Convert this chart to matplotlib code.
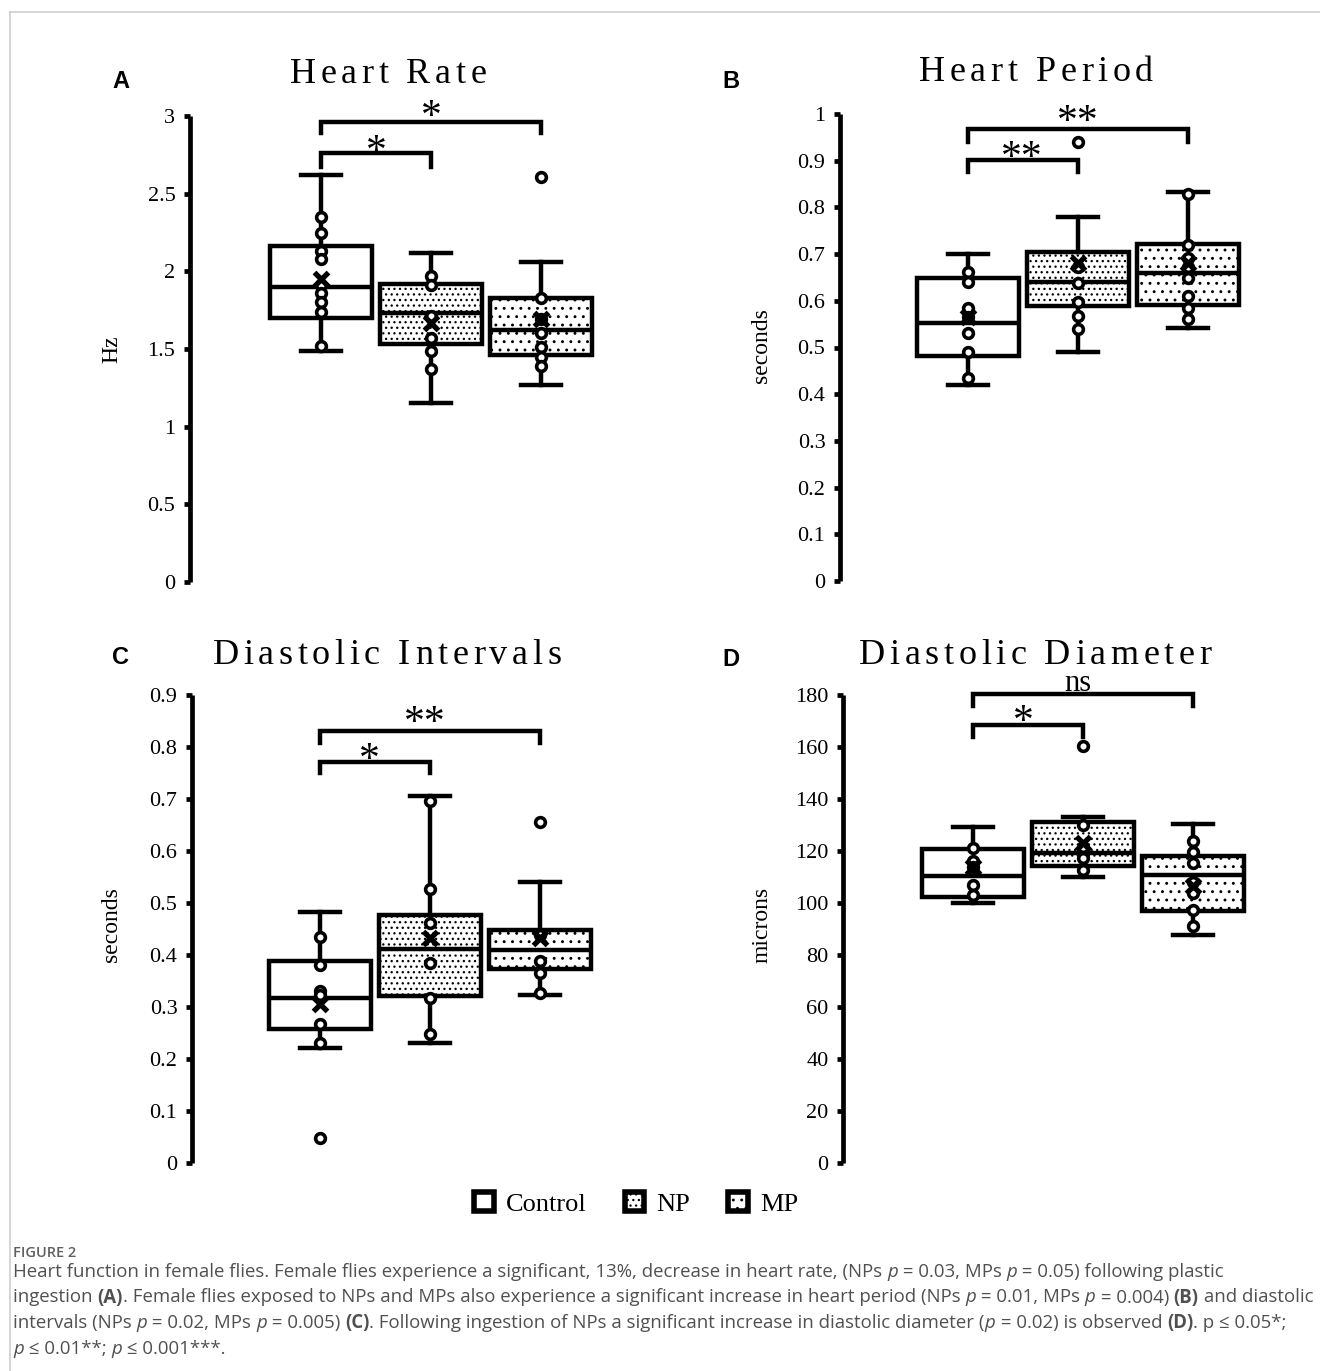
import matplotlib
matplotlib.use('Agg')
import matplotlib.pyplot as plt
from matplotlib.patches import Patch
from matplotlib.lines import Line2D
from matplotlib.font_manager import FontProperties

W, H = 1320, 1371
DPI = 100
SERIF = ['Liberation Serif', 'DejaVu Serif']
SANS = ['Liberation Sans', 'DejaVu Sans']
CAPF = ['Open Sans', 'DejaVu Sans']

plt.rcParams['hatch.linewidth'] = 0.9
plt.rcParams['hatch.color'] = 'black'

groups = ['Control', 'NP', 'MP']
positions = [1, 2, 3]

# ---------------- Panel A: Heart Rate (Hz) ----------------
hr_whislo = [1.49, 1.15, 1.27]
hr_q1 = [1.70, 1.53, 1.46]
hr_med = [1.90, 1.73, 1.62]
hr_q3 = [2.16, 1.92, 1.83]
hr_whishi = [2.62, 2.12, 2.06]
hr_mean = [1.95, 1.67, 1.69]
hr_points = [[2.35, 2.25, 2.13, 2.08, 1.91, 1.86, 1.80, 1.74, 1.52],
             [1.97, 1.91, 1.71, 1.57, 1.49, 1.37],
             [1.83, 1.69, 1.60, 1.51, 1.45, 1.39]]
hr_outliers = [[], [], [2.61]]
hr_ticks = [0, 0.5, 1, 1.5, 2, 2.5, 3]
hr_ticklabels = ['0', '0.5', '1', '1.5', '2', '2.5', '3']

# ---------------- Panel B: Heart Period (seconds) ----------------
hp_whislo = [0.42, 0.49, 0.542]
hp_q1 = [0.482, 0.589, 0.591]
hp_med = [0.552, 0.64, 0.66]
hp_q3 = [0.649, 0.705, 0.722]
hp_whishi = [0.70, 0.78, 0.833]
hp_mean = [0.565, 0.68, 0.68]
hp_points = [[0.662, 0.64, 0.585, 0.565, 0.531, 0.49, 0.435],
             [0.672, 0.638, 0.597, 0.567, 0.54],
             [0.829, 0.72, 0.692, 0.672, 0.649, 0.61, 0.585, 0.561]]
hp_outliers = [[], [0.94], []]
hp_ticks = [0, 0.1, 0.2, 0.3, 0.4, 0.5, 0.6, 0.7, 0.8, 0.9, 1.0]
hp_ticklabels = ['0', '0.1', '0.2', '0.3', '0.4', '0.5', '0.6', '0.7', '0.8', '0.9', '1']

# ---------------- Panel C: Diastolic Intervals (seconds) ----------------
di_whislo = [0.221, 0.231, 0.323]
di_q1 = [0.258, 0.321, 0.373]
di_med = [0.317, 0.411, 0.41]
di_q3 = [0.388, 0.477, 0.448]
di_whishi = [0.483, 0.706, 0.54]
di_mean = [0.306, 0.433, 0.433]
di_points = [[0.435, 0.381, 0.331, 0.323, 0.267, 0.231],
             [0.696, 0.527, 0.462, 0.385, 0.317, 0.248],
             [0.438, 0.388, 0.365, 0.327]]
di_outliers = [[0.048], [], [0.656]]
di_ticks = [0, 0.1, 0.2, 0.3, 0.4, 0.5, 0.6, 0.7, 0.8, 0.9]
di_ticklabels = ['0', '0.1', '0.2', '0.3', '0.4', '0.5', '0.6', '0.7', '0.8', '0.9']

# ---------------- Panel D: Diastolic Diameter (microns) ----------------
dd_whislo = [100.0, 110.0, 87.7]
dd_q1 = [102.3, 114.2, 96.9]
dd_med = [110.4, 119.2, 110.8]
dd_q3 = [120.8, 131.2, 118.1]
dd_whishi = [129.2, 133.1, 130.4]
dd_mean = [113.8, 123.1, 106.5]
dd_points = [[121.2, 116.2, 113.8, 106.9, 103.1],
             [130.0, 121.5, 117.3, 112.7],
             [123.8, 119.6, 115.4, 108.1, 103.8, 97.3, 91.2]]
dd_outliers = [[], [160.4], []]
dd_ticks = [0, 20, 40, 60, 80, 100, 120, 140, 160, 180]
dd_ticklabels = ['0', '20', '40', '60', '80', '100', '120', '140', '160', '180']

# significance annotations: (x_start, x_end, line_y, tick_bottom_y, label, label_x, label_baseline)
hr_sig = [(1, 2, 2.762, 2.672, '*', 1.50, 2.70), (1, 3, 2.961, 2.891, '*', 2.0, 2.923)]
hp_sig = [(1, 2, 0.901, 0.876, '**', 1.49, 0.882), (1, 3, 0.968, 0.940, '**', 2.0, 0.959)]
di_sig = [(1, 2, 0.771, 0.750, '*', 1.45, 0.754), (1, 3, 0.831, 0.808, '**', 1.95, 0.825)]
dd_sig = [(1, 2, 168.5, 163.8, '*', 1.46, 165.4), (1, 3, 180.4, 175.8, 'ns', 1.95, 181.4)]

hatches = [None, '...', '..']

fig = plt.figure(figsize=(W / DPI, H / DPI), dpi=DPI)
fig.patch.set_facecolor('white')


def add_ax(axis_x, y_bottom, y_top, width_px=450):
    return fig.add_axes([axis_x / W, 1 - y_bottom / H, width_px / W, (y_bottom - y_top) / H])


def panel(ax, whislo, q1, med, q3, whishi, mean, points, outliers,
          ticks, ticklabels, ylim, xleft, sig):
    stats = []
    for i in range(3):
        stats.append(dict(whislo=whislo[i], q1=q1[i], med=med[i], q3=q3[i],
                          whishi=whishi[i], mean=mean[i], fliers=outliers[i],
                          label=groups[i]))
    bp = ax.bxp(stats, positions=positions, widths=0.92, capwidths=0.36,
                showmeans=True, patch_artist=True, showfliers=True,
                boxprops=dict(facecolor='white', edgecolor='black', linewidth=3.2),
                medianprops=dict(color='black', linewidth=3.2),
                whiskerprops=dict(color='black', linewidth=3.2),
                capprops=dict(color='black', linewidth=3.2),
                meanprops=dict(marker='x', markersize=10, markeredgewidth=3.8,
                               markeredgecolor='black', markerfacecolor='black'),
                flierprops=dict(marker='o', markersize=7, markerfacecolor='white',
                                markeredgecolor='black', markeredgewidth=2.6))
    for b, h in zip(bp['boxes'], hatches):
        if h:
            b.set_hatch(h)
    for m in bp['means']:
        m.set_zorder(6)
    for f in bp['fliers']:
        f.set_zorder(5)
        f.set_clip_on(False)
    for p, pts in zip(positions, points):
        ax.plot([p] * len(pts), pts, ls='none', marker='o', ms=7, mfc='white',
                mec='black', mew=2.6, zorder=5, clip_on=False)
    ax.set_ylim(*ylim)
    ax.set_xlim(xleft, xleft + 450 / 110)
    for s in ['top', 'right', 'bottom']:
        ax.spines[s].set_visible(False)
    ax.spines['left'].set_linewidth(3.4)
    ax.spines['left'].set_capstyle('butt')
    ax.set_xticks([])
    ax.set_yticks(ticks)
    ax.set_yticklabels(ticklabels, fontfamily=SERIF, fontsize=16)
    ax.tick_params(axis='y', length=4.5, width=3.4, pad=6, direction='out')
    ax.patch.set_alpha(0)
    for (x0, x1, ly, ty, lab, lx, lb) in sig:
        ax.plot([x0, x0, x1, x1], [ty, ly, ly, ty], color='black', lw=3.2,
                solid_joinstyle='miter', clip_on=False, zorder=3)
        fs = 30 if '*' in lab else 22
        ax.text(lx, lb, lab, ha='center', va='baseline', fontsize=fs,
                fontfamily=SERIF, clip_on=False)


axA = add_ax(190, 582, 116)
panel(axA, hr_whislo, hr_q1, hr_med, hr_q3, hr_whishi, hr_mean, hr_points, hr_outliers,
      hr_ticks, hr_ticklabels, (0, 3), 1 - 131 / 110, hr_sig)
axB = add_ax(840, 581, 114)
panel(axB, hp_whislo, hp_q1, hp_med, hp_q3, hp_whishi, hp_mean, hp_points, hp_outliers,
      hp_ticks, hp_ticklabels, (0, 1), 1 - 128 / 110, hp_sig)
axC = add_ax(192, 1163, 695)
panel(axC, di_whislo, di_q1, di_med, di_q3, di_whishi, di_mean, di_points, di_outliers,
      di_ticks, di_ticklabels, (0, 0.9), 1 - 128 / 110, di_sig)
axD = add_ax(843, 1163, 695)
panel(axD, dd_whislo, dd_q1, dd_med, dd_q3, dd_whishi, dd_mean, dd_points, dd_outliers,
      dd_ticks, dd_ticklabels, (0, 180), 1 - 130 / 110, dd_sig)

renderer = fig.canvas.get_renderer()


def text_width(s, **kw):
    t1 = fig.text(0, 0, '|' + s + '|', **kw)
    t2 = fig.text(0, 0, '||', **kw)
    w = t1.get_window_extent(renderer).width - t2.get_window_extent(renderer).width
    t1.remove()
    t2.remove()
    return w


def spaced_title(cx, baseline, s, size, track):
    kw = dict(fontsize=size, fontfamily=SERIF)
    widths = [text_width(c, **kw) for c in s]
    total = sum(widths) + track * (len(s) - 1)
    x = cx - total / 2
    for c, w in zip(s, widths):
        fig.text(x / W, 1 - baseline / H, c, ha='left', va='baseline', **kw)
        x += w + track


spaced_title(388, 83, 'Heart Rate', 26, 4.6)
spaced_title(1036, 81, 'Heart Period', 26, 4.6)
spaced_title(387, 664, 'Diastolic Intervals', 26, 4.6)
spaced_title(1035, 664, 'Diastolic Diameter', 26, 4.6)

for lab, x, y in [('A', 112, 88), ('B', 722, 88), ('C', 112, 664), ('D', 722, 666)]:
    fig.text(x / W, 1 - y / H, lab, ha='left', va='baseline', fontsize=17,
             fontweight='bold', fontfamily=SANS)

for lab, x, y in [('Hz', 112, 349), ('seconds', 762, 346), ('seconds', 112, 925),
                  ('microns', 762, 925)]:
    fig.text(x / W, 1 - y / H, lab, ha='center', va='center', rotation=90,
             fontsize=17, fontfamily=SERIF)

# legend
handles = [Patch(facecolor='white', edgecolor='black', linewidth=4, label=groups[0]),
           Patch(facecolor='white', edgecolor='black', linewidth=4, hatch='...', label=groups[1]),
           Patch(facecolor='white', edgecolor='black', linewidth=4, hatch='..', label=groups[2])]
fig.legend(handles=handles, loc='center', bbox_to_anchor=(636 / W, 1 - 1204 / H), ncol=3,
           frameon=False, prop=FontProperties(family=SERIF, size=19),
           handlelength=0.75, handleheight=0.75, columnspacing=1.45, handletextpad=0.45)

# frame
fig.add_artist(Line2D([10 / W, 10 / W], [0, 1 - 12 / H], transform=fig.transFigure,
                      color='#cfcfcf', lw=1.2))
fig.add_artist(Line2D([10 / W, 1], [1 - 12 / H, 1 - 12 / H], transform=fig.transFigure,
                      color='#cfcfcf', lw=1.2))

# caption
CAP_SIZE = 13.4
CAP_COLOR = '#505050'
fig.text(13 / W, 1 - 1257 / H, 'FIGURE 2', fontsize=10.5, fontweight='semibold',
         color='#606060', fontfamily=CAPF, va='baseline')


def rich_line(x, baseline, parts):
    for txt, kind in parts:
        kw = dict(fontsize=CAP_SIZE, fontfamily=CAPF, color=CAP_COLOR)
        if kind == 'i':
            kw['fontstyle'] = 'italic'
        elif kind == 'b':
            kw['fontweight'] = 'bold'
        fig.text(x / W, 1 - baseline / H, txt, ha='left', va='baseline', **kw)
        x += text_width(txt, **kw)


cap_lines = [
    [('Heart function in female flies. Female flies experience a significant, 13%, decrease in heart rate, (NPs ', 'n'),
     ('p', 'i'), (' = 0.03, MPs ', 'n'), ('p', 'i'), (' = 0.05) following plastic', 'n')],
    [('ingestion ', 'n'), ('(A)', 'b'),
     ('. Female flies exposed to NPs and MPs also experience a significant increase in heart period (NPs ', 'n'),
     ('p', 'i'), (' = 0.01, MPs ', 'n'), ('p', 'i'), (' = 0.004) ', 'n'), ('(B)', 'b'), (' and diastolic', 'n')],
    [('intervals (NPs ', 'n'), ('p', 'i'), (' = 0.02, MPs ', 'n'), ('p', 'i'), (' = 0.005) ', 'n'), ('(C)', 'b'),
     ('. Following ingestion of NPs a significant increase in diastolic diameter (', 'n'), ('p', 'i'),
     (' = 0.02) is observed ', 'n'), ('(D)', 'b'), ('. p \u2264 0.05*;', 'n')],
    [('p', 'i'), (' \u2264 0.01**; ', 'n'), ('p', 'i'), (' \u2264 0.001***.', 'n')],
]
for i, parts in enumerate(cap_lines):
    rich_line(13, 1277 + i * 25.5, parts)

fig.savefig('out.png', dpi=DPI, facecolor='white')
